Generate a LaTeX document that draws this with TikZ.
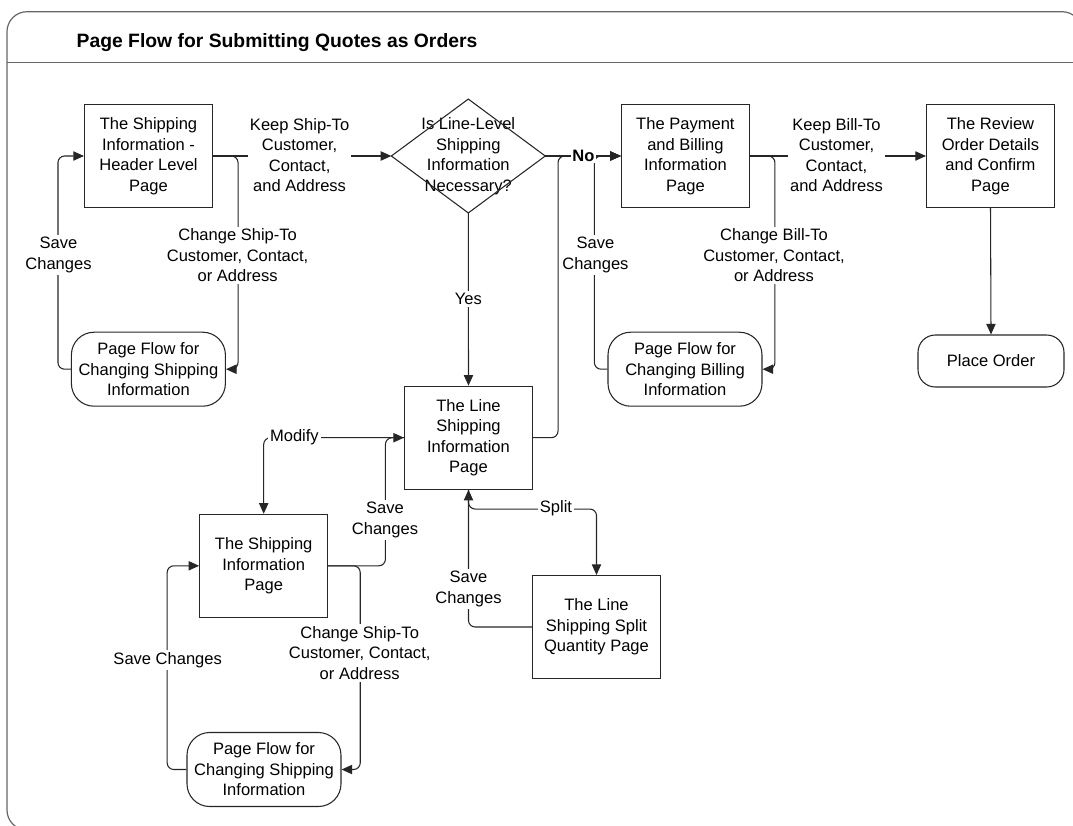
\documentclass[tikz,border=0pt]{standalone}
\usepackage{fontspec}
\setmainfont{Liberation Sans}
\usetikzlibrary{arrows.meta}
\begin{document}
\begin{tikzpicture}[x=0.75pt,y=-0.75pt,
  every node/.style={font=\fontsize{12.4pt}{15.4pt}\selectfont, align=center, text=black},
  page/.style={draw=black!85, line width=0.8pt, minimum width=96pt, minimum height=77.25pt, inner sep=0pt},
  term/.style={draw=black!85, line width=0.8pt, rounded corners=17pt, minimum width=115.5pt, minimum height=55.5pt, inner sep=0pt},
  decide/.style={minimum width=115pt, minimum height=85pt, inner sep=0pt},
  link/.style={draw=black!85, line width=0.8pt},
  flow/.style={link, rounded corners=5pt, -{Triangle[length=8pt,width=7pt]}},
  lbl/.style={fill=white, inner sep=1.5pt},
  frame/.style={draw=black!60, line width=0.9pt}
]
\useasboundingbox (0,0) rectangle (1073,825);

% outer frame and title bar
\draw[frame, rounded corners=15pt] (7,11.7) rectangle (1082,830);
\draw[frame] (7,62.3) -- (1082,62.3);
\node[font=\fontsize{14.5pt}{17pt}\selectfont\bfseries] (title) at (277,43) {Page Flow for Submitting Quotes as Orders};

% pages
\node[page] (hdr)   at (148.5,156)   {The Shipping\\Information -\\Header Level\\Page};
\node[page] (pay)   at (685.4,156)   {The Payment\\and Billing\\Information\\Page};
\node[page] (rev)   at (990.5,156)   {The Review\\Order Details\\and Confirm\\Page};
\node[page] (lsi)   at (468.5,437.7) {The Line\\Shipping\\Information\\Page};
\node[page] (sip)   at (263.7,565.8) {The Shipping\\Information\\Page};
\node[page] (split) at (596.5,627)   {The Line\\Shipping Split\\Quantity Page};

% decision
\node[decide] (dec) at (468.3,156) {Is Line-Level\\Shipping\\Information\\Necessary?};
\draw[link] (dec.north) -- (dec.east) -- (dec.south) -- (dec.west) -- cycle;

% sub-flows and end point
\node[term] (shipT) at (148.4,369.2) {Page Flow for\\Changing Shipping\\Information};
\node[term] (billT) at (685,369.2)   {Page Flow for\\Changing Billing\\Information};
\node[term] (sbT)   at (264,769.5)   {Page Flow for\\Changing Shipping\\Information};
\node[term, minimum width=109.5pt, minimum height=39pt, rounded corners=13pt] (place) at (991,361) {Place Order};

% connectors
\draw[flow] (hdr.east) -- (dec.west);
\draw[flow] (hdr.east) -- ++(25,0) |- (shipT.east);
\draw[flow] (shipT.west) -- ++(-12.9,0) |- (hdr.west);
\draw[flow] (dec.south) -- (lsi.north);
\draw[flow] (dec.east) -- (pay.west);
\draw[flow] (lsi.east) -- ++(25,0) |- (pay.west);
\draw[flow] (billT.west) -- ++(-13.1,0) |- (pay.west);
\draw[flow] (pay.east) -- ++(25,0) |- (billT.east);
\draw[flow] (pay.east) -- (rev.west);
\draw[flow] (rev.south) -- (place.north);
\draw[flow] (lsi.west) -| (sip.north);
\draw[flow] (sip.east) -- ++(57.2,0) |- (lsi.west);
\draw[flow] (sip.east) -- ++(32,0) |- (sbT.east);
\draw[flow] (sbT.west) -- ++(-19.3,0) |- (sip.west);
\draw[flow] (lsi.south) -- ++(0,19.3) -| (split.north);
\draw[flow] (split.west) -| (lsi.south);

% connector labels
\node[lbl] (kShip)  at (299.6,155) {Keep Ship-To\\Customer,\\Contact,\\and Address};
\node[lbl] (cShip)  at (237.6,255.5) {Change Ship-To\\Customer, Contact,\\or Address};
\node[lbl] (sHdr)   at (58.5,255) {Save\\Changes};
\node[lbl] (yes)    at (468.3,299) {Yes};
\node[lbl, font=\fontsize{12.4pt}{15.4pt}\selectfont\bfseries, inner sep=1pt] (no) at (583.4,155.5) {No};
\node[lbl] (sPay)   at (595.4,255) {Save\\Changes};
\node[lbl] (cBill)  at (774,255.5) {Change Bill-To\\Customer, Contact,\\or Address};
\node[lbl] (kBill)  at (836.5,155) {Keep Bill-To\\Customer,\\Contact,\\and Address};
\node[lbl] (modify) at (294.4,437.5) {Modify};
\node[lbl] (sLsi)   at (385,520) {Save\\Changes};
\node[lbl] (cShip2) at (359.7,653) {Change Ship-To\\Customer, Contact,\\or Address};
\node[lbl] (sSip)   at (167.7,660) {Save Changes};
\node[lbl] (splitL) at (556,508) {Split};
\node[lbl] (sSplit) at (468.5,589) {Save\\Changes};
\end{tikzpicture}
\end{document}
